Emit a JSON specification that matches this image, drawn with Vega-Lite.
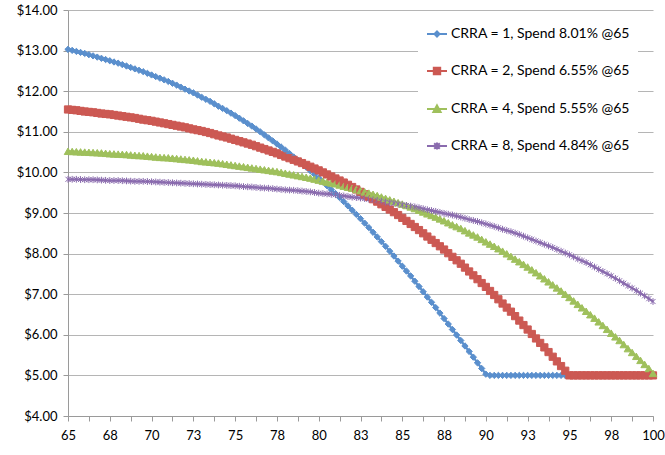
{
"$schema": "https://vega.github.io/schema/vega-lite/v6.json",
"width": 585, "height": 406,
"autosize": {"type": "none"},
"padding": {"left": 68, "top": 10, "right": 12, "bottom": 39},
"background": "white",
"config": {"view": {"stroke": null}, "font": "Lato"},
"data": {"values": [
{"a":65,"b":13.03,"r":11.55,"g":10.52,"p":9.83},
{"a":65.25,"b":13.005,"r":11.54,"g":10.515,"p":9.83},
{"a":65.5,"b":12.98,"r":11.53,"g":10.51,"p":9.83},
{"a":65.75,"b":12.955,"r":11.515,"g":10.505,"p":9.825},
{"a":66,"b":12.93,"r":11.50,"g":10.50,"p":9.82},
{"a":66.25,"b":12.90,"r":11.49,"g":10.495,"p":9.82},
{"a":66.5,"b":12.87,"r":11.48,"g":10.49,"p":9.82},
{"a":66.75,"b":12.84,"r":11.465,"g":10.485,"p":9.815},
{"a":67,"b":12.81,"r":11.45,"g":10.48,"p":9.81},
{"a":67.25,"b":12.78,"r":11.44,"g":10.47,"p":9.805},
{"a":67.5,"b":12.75,"r":11.43,"g":10.46,"p":9.80},
{"a":67.75,"b":12.72,"r":11.415,"g":10.455,"p":9.80},
{"a":68,"b":12.69,"r":11.40,"g":10.45,"p":9.80},
{"a":68.25,"b":12.655,"r":11.385,"g":10.445,"p":9.795},
{"a":68.5,"b":12.62,"r":11.37,"g":10.44,"p":9.79},
{"a":68.75,"b":12.585,"r":11.355,"g":10.43,"p":9.785},
{"a":69,"b":12.55,"r":11.34,"g":10.42,"p":9.78},
{"a":69.25,"b":12.515,"r":11.32,"g":10.415,"p":9.78},
{"a":69.5,"b":12.48,"r":11.30,"g":10.41,"p":9.78},
{"a":69.75,"b":12.44,"r":11.285,"g":10.40,"p":9.775},
{"a":70,"b":12.40,"r":11.27,"g":10.39,"p":9.77},
{"a":70.25,"b":12.36,"r":11.25,"g":10.38,"p":9.765},
{"a":70.5,"b":12.32,"r":11.23,"g":10.37,"p":9.76},
{"a":70.75,"b":12.28,"r":11.21,"g":10.365,"p":9.755},
{"a":71,"b":12.24,"r":11.19,"g":10.36,"p":9.75},
{"a":71.25,"b":12.195,"r":11.17,"g":10.35,"p":9.745},
{"a":71.5,"b":12.15,"r":11.15,"g":10.34,"p":9.74},
{"a":71.75,"b":12.10,"r":11.13,"g":10.33,"p":9.735},
{"a":72,"b":12.05,"r":11.11,"g":10.32,"p":9.73},
{"a":72.25,"b":12.005,"r":11.085,"g":10.31,"p":9.725},
{"a":72.5,"b":11.96,"r":11.06,"g":10.30,"p":9.72},
{"a":72.75,"b":11.905,"r":11.04,"g":10.285,"p":9.715},
{"a":73,"b":11.85,"r":11.02,"g":10.27,"p":9.71},
{"a":73.25,"b":11.80,"r":10.995,"g":10.26,"p":9.705},
{"a":73.5,"b":11.75,"r":10.97,"g":10.25,"p":9.70},
{"a":73.75,"b":11.69,"r":10.94,"g":10.24,"p":9.695},
{"a":74,"b":11.63,"r":10.91,"g":10.23,"p":9.69},
{"a":74.25,"b":11.575,"r":10.885,"g":10.215,"p":9.685},
{"a":74.5,"b":11.52,"r":10.86,"g":10.20,"p":9.68},
{"a":74.75,"b":11.46,"r":10.83,"g":10.185,"p":9.675},
{"a":75,"b":11.40,"r":10.80,"g":10.17,"p":9.67},
{"a":75.25,"b":11.335,"r":10.77,"g":10.155,"p":9.66},
{"a":75.5,"b":11.27,"r":10.74,"g":10.14,"p":9.65},
{"a":75.75,"b":11.205,"r":10.71,"g":10.125,"p":9.645},
{"a":76,"b":11.14,"r":10.68,"g":10.11,"p":9.64},
{"a":76.25,"b":11.07,"r":10.645,"g":10.095,"p":9.63},
{"a":76.5,"b":11.00,"r":10.61,"g":10.08,"p":9.62},
{"a":76.75,"b":10.925,"r":10.575,"g":10.065,"p":9.615},
{"a":77,"b":10.85,"r":10.54,"g":10.05,"p":9.61},
{"a":77.25,"b":10.775,"r":10.505,"g":10.035,"p":9.60},
{"a":77.5,"b":10.70,"r":10.47,"g":10.02,"p":9.59},
{"a":77.75,"b":10.625,"r":10.43,"g":10.00,"p":9.58},
{"a":78,"b":10.55,"r":10.39,"g":9.98,"p":9.57},
{"a":78.25,"b":10.465,"r":10.35,"g":9.96,"p":9.565},
{"a":78.5,"b":10.38,"r":10.31,"g":9.94,"p":9.56},
{"a":78.75,"b":10.30,"r":10.27,"g":9.92,"p":9.55},
{"a":79,"b":10.22,"r":10.23,"g":9.90,"p":9.54},
{"a":79.25,"b":10.13,"r":10.185,"g":9.88,"p":9.53},
{"a":79.5,"b":10.04,"r":10.14,"g":9.86,"p":9.52},
{"a":79.75,"b":9.95,"r":10.095,"g":9.835,"p":9.505},
{"a":80,"b":9.86,"r":10.05,"g":9.81,"p":9.49},
{"a":80.25,"b":9.765,"r":10.00,"g":9.785,"p":9.48},
{"a":80.5,"b":9.67,"r":9.95,"g":9.76,"p":9.47},
{"a":80.75,"b":9.575,"r":9.90,"g":9.74,"p":9.46},
{"a":81,"b":9.48,"r":9.85,"g":9.72,"p":9.45},
{"a":81.25,"b":9.38,"r":9.80,"g":9.69,"p":9.435},
{"a":81.5,"b":9.28,"r":9.75,"g":9.66,"p":9.42},
{"a":81.75,"b":9.175,"r":9.695,"g":9.635,"p":9.405},
{"a":82,"b":9.07,"r":9.64,"g":9.61,"p":9.39},
{"a":82.25,"b":8.965,"r":9.58,"g":9.58,"p":9.38},
{"a":82.5,"b":8.86,"r":9.52,"g":9.55,"p":9.37},
{"a":82.75,"b":8.75,"r":9.46,"g":9.52,"p":9.355},
{"a":83,"b":8.64,"r":9.40,"g":9.49,"p":9.34},
{"a":83.25,"b":8.525,"r":9.34,"g":9.46,"p":9.325},
{"a":83.5,"b":8.41,"r":9.28,"g":9.43,"p":9.31},
{"a":83.75,"b":8.295,"r":9.215,"g":9.395,"p":9.29},
{"a":84,"b":8.18,"r":9.15,"g":9.36,"p":9.27},
{"a":84.25,"b":8.06,"r":9.085,"g":9.325,"p":9.255},
{"a":84.5,"b":7.94,"r":9.02,"g":9.29,"p":9.24},
{"a":84.75,"b":7.815,"r":8.95,"g":9.255,"p":9.22},
{"a":85,"b":7.69,"r":8.88,"g":9.22,"p":9.20},
{"a":85.25,"b":7.57,"r":8.805,"g":9.185,"p":9.185},
{"a":85.5,"b":7.45,"r":8.73,"g":9.15,"p":9.17},
{"a":85.75,"b":7.32,"r":8.655,"g":9.11,"p":9.15},
{"a":86,"b":7.19,"r":8.58,"g":9.07,"p":9.13},
{"a":86.25,"b":7.06,"r":8.50,"g":9.025,"p":9.105},
{"a":86.5,"b":6.93,"r":8.42,"g":8.98,"p":9.08},
{"a":86.75,"b":6.80,"r":8.34,"g":8.94,"p":9.06},
{"a":87,"b":6.67,"r":8.26,"g":8.90,"p":9.04},
{"a":87.25,"b":6.535,"r":8.18,"g":8.855,"p":9.015},
{"a":87.5,"b":6.40,"r":8.10,"g":8.81,"p":8.99},
{"a":87.75,"b":6.265,"r":8.01,"g":8.76,"p":8.97},
{"a":88,"b":6.13,"r":7.92,"g":8.71,"p":8.95},
{"a":88.25,"b":5.995,"r":7.835,"g":8.665,"p":8.925},
{"a":88.5,"b":5.86,"r":7.75,"g":8.62,"p":8.90},
{"a":88.75,"b":5.725,"r":7.655,"g":8.565,"p":8.87},
{"a":89,"b":5.59,"r":7.56,"g":8.51,"p":8.84},
{"a":89.25,"b":5.45,"r":7.465,"g":8.46,"p":8.815},
{"a":89.5,"b":5.31,"r":7.37,"g":8.41,"p":8.79},
{"a":89.75,"b":5.17,"r":7.275,"g":8.35,"p":8.76},
{"a":90,"b":5.03,"r":7.18,"g":8.29,"p":8.73},
{"a":90.25,"b":5,"r":7.08,"g":8.235,"p":8.70},
{"a":90.5,"b":5,"r":6.98,"g":8.18,"p":8.67},
{"a":90.75,"b":5,"r":6.875,"g":8.12,"p":8.635},
{"a":91,"b":5,"r":6.77,"g":8.06,"p":8.60},
{"a":91.25,"b":5,"r":6.67,"g":7.995,"p":8.57},
{"a":91.5,"b":5,"r":6.57,"g":7.93,"p":8.54},
{"a":91.75,"b":5,"r":6.46,"g":7.865,"p":8.505},
{"a":92,"b":5,"r":6.35,"g":7.80,"p":8.47},
{"a":92.25,"b":5,"r":6.24,"g":7.735,"p":8.43},
{"a":92.5,"b":5,"r":6.13,"g":7.67,"p":8.39},
{"a":92.75,"b":5,"r":6.02,"g":7.60,"p":8.35},
{"a":93,"b":5,"r":5.91,"g":7.53,"p":8.31},
{"a":93.25,"b":5,"r":5.80,"g":7.455,"p":8.27},
{"a":93.5,"b":5,"r":5.69,"g":7.38,"p":8.23},
{"a":93.75,"b":5,"r":5.575,"g":7.305,"p":8.19},
{"a":94,"b":5,"r":5.46,"g":7.23,"p":8.15},
{"a":94.25,"b":5,"r":5.345,"g":7.155,"p":8.105},
{"a":94.5,"b":5,"r":5.23,"g":7.08,"p":8.06},
{"a":94.75,"b":5,"r":5.115,"g":7.00,"p":8.015},
{"a":95,"b":5,"r":5,"g":6.92,"p":7.97},
{"a":95.25,"b":5,"r":5,"g":6.835,"p":7.92},
{"a":95.5,"b":5,"r":5,"g":6.75,"p":7.87},
{"a":95.75,"b":5,"r":5,"g":6.665,"p":7.825},
{"a":96,"b":5,"r":5,"g":6.58,"p":7.78},
{"a":96.25,"b":5,"r":5,"g":6.495,"p":7.725},
{"a":96.5,"b":5,"r":5,"g":6.41,"p":7.67},
{"a":96.75,"b":5,"r":5,"g":6.32,"p":7.615},
{"a":97,"b":5,"r":5,"g":6.23,"p":7.56},
{"a":97.25,"b":5,"r":5,"g":6.135,"p":7.505},
{"a":97.5,"b":5,"r":5,"g":6.04,"p":7.45},
{"a":97.75,"b":5,"r":5,"g":5.95,"p":7.39},
{"a":98,"b":5,"r":5,"g":5.86,"p":7.33},
{"a":98.25,"b":5,"r":5,"g":5.76,"p":7.27},
{"a":98.5,"b":5,"r":5,"g":5.66,"p":7.21},
{"a":98.75,"b":5,"r":5,"g":5.565,"p":7.15},
{"a":99,"b":5,"r":5,"g":5.47,"p":7.09},
{"a":99.25,"b":5,"r":5,"g":5.37,"p":7.025},
{"a":99.5,"b":5,"r":5,"g":5.27,"p":6.96},
{"a":99.75,"b":5,"r":5,"g":5.17,"p":6.89},
{"a":100,"b":5,"r":5,"g":5.05,"p":6.82}
]},
"transform": [{"fold": ["b", "r", "g", "p"], "as": ["k", "v"]}],
"encoding": {
  "x": {"field": "a", "type": "quantitative",
    "scale": {"domain": [65, 100], "nice": false, "zero": false},
    "axis": {"title": null, "grid": false,
      "values": [65,66.25,67.5,68.75,70,71.25,72.5,73.75,75,76.25,77.5,78.75,80,81.25,82.5,83.75,85,86.25,87.5,88.75,90,91.25,92.5,93.75,95,96.25,97.5,98.75,100],
      "labelExpr": "datum.value % 2.5 == 0 ? format(datum.value, '.0f') : ''",
      "labelFlush": false, "labelOverlap": false, "labelFont": "Lato", "labelFontSize": 13, "labelColor": "#000000",
      "labelPadding": 8, "tickSize": 5, "tickColor": "#9A9A9A", "domainColor": "#9A9A9A", "tickWidth": 1, "domainWidth": 1}},
  "y": {"field": "v", "type": "quantitative",
    "scale": {"domain": [4, 14], "nice": false, "zero": false},
    "axis": {"title": null, "values": [4,5,6,7,8,9,10,11,12,13,14], "format": "$.2f",
      "grid": true, "gridColor": "#B5B5B5", "gridWidth": 1,
      "labelFont": "Lato", "labelFontSize": 13, "labelColor": "#000000", "labelPadding": 6,
      "tickSize": 5, "tickColor": "#9A9A9A", "domainColor": "#9A9A9A", "labelFlush": false, "labelOverlap": false}},
  "color": {"field": "k", "type": "nominal",
    "scale": {"domain": ["b", "r", "g", "p"], "range": ["#5A8FCD", "#CC5953", "#9FC05C", "#8A6BAE"]},
    "legend": {"title": null, "orient": "none", "legendX": 350, "legendY": 5,
      "fillColor": "white", "padding": 8, "rowPadding": 19,
      "labelFont": "Lato", "labelFontSize": 14, "labelColor": "#000000", "labelOffset": 3, "labelLimit": 400,
      "symbolSize": 400, "symbolStrokeWidth": 2,
      "labelExpr": "datum.label == 'b' ? 'CRRA = 1, Spend 8.01% @65' : datum.label == 'r' ? 'CRRA = 2, Spend 6.55% @65' : datum.label == 'g' ? 'CRRA = 4, Spend 5.55% @65' : 'CRRA = 8, Spend 4.84% @65'",
      "encode": {"symbols": {"update": {
        "shape": {"signal": "datum.value == 'b' ? 'M-1,0L1,0M0,-0.25L0.25,0L0,0.25L-0.25,0Z' : datum.value == 'r' ? 'M-1,0L1,0M-0.32,-0.32L0.32,-0.32L0.32,0.32L-0.32,0.32Z' : datum.value == 'g' ? 'M-1,0L1,0M0,-0.36L0.36,0.3L-0.36,0.3Z' : 'M-1,0L1,0M-0.28,-0.28L0.28,0.28M-0.28,0.28L0.28,-0.28M0,-0.36L0,0.36'"},
        "fill": {"signal": "scale('color', datum.value)"},
        "stroke": {"signal": "scale('color', datum.value)"},
        "strokeWidth": {"value": 2},
        "opacity": {"value": 1}
      }}}}}
},
"layer": [
  {"mark": {"type": "line", "strokeWidth": 2.25}},
  {"mark": {"type": "point", "filled": true, "opacity": 1, "strokeWidth": 1,
     "size": {"expr": "datum.k == 'b' ? 40 : datum.k == 'r' ? 52 : datum.k == 'g' ? 56 : 46"},
     "shape": {"expr": "datum.k == 'b' ? 'diamond' : datum.k == 'r' ? 'square' : datum.k == 'g' ? 'triangle-up' : 'M-0.75,-0.75L0.75,0.75M-0.75,0.75L0.75,-0.75M0,-1L0,1'"},
     "stroke": {"expr": "scale('color', datum.k)"}}}
]
}
